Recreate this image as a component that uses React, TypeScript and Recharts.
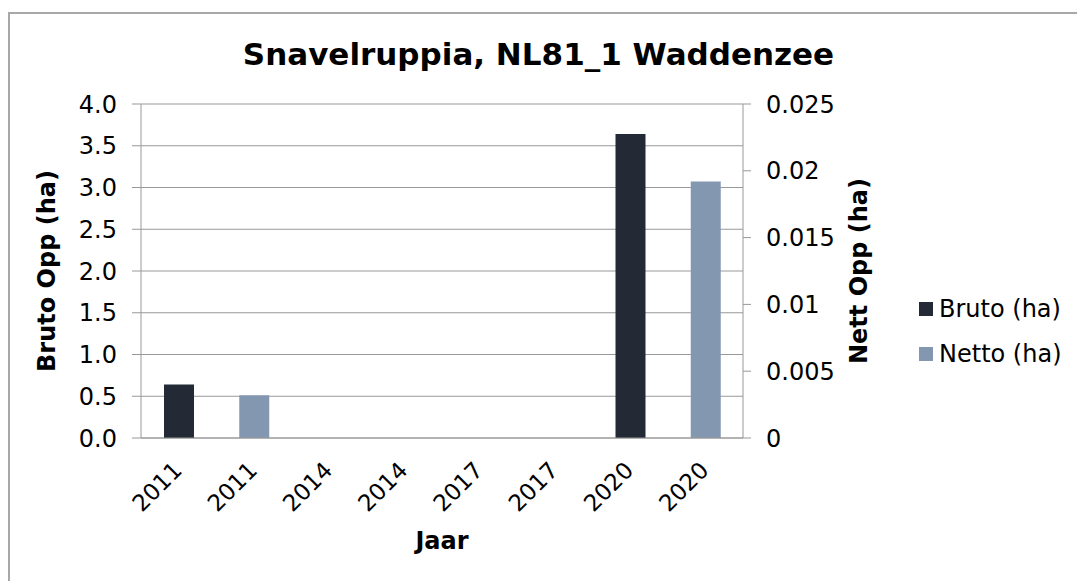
import { BarChart, Bar, XAxis, YAxis, CartesianGrid, Legend, Label } from 'recharts';

// ─── Data ────────────────────────────────────────────────────────────────────
const years = ['2011', '2011', '2014', '2014', '2017', '2017', '2020', '2020'];
const brutoHa = [0.64, null, 0, null, 0, null, 3.64, null];
const nettoHa = [null, 0.0032, null, 0, null, 0, null, 0.0192];
const brutoTicks = [0, 0.5, 1, 1.5, 2, 2.5, 3, 3.5, 4];
const nettoTicks = [0, 0.005, 0.01, 0.015, 0.02, 0.025];
const slotEdges = [0, 1, 2, 3, 4, 5, 6, 7, 8];

const data = years.map((year, i) => ({
  year,
  slot: i + 0.5,
  bruto: brutoHa[i],
  netto: nettoHa[i],
}));

const BRUTO = '#232a35';
const NETTO = '#8497b0';
const GREY = '#999999';
const FONT = '"DejaVu Sans", Verdana, sans-serif';

const legendItems = [
  { label: 'Bruto (ha)', color: BRUTO },
  { label: 'Netto (ha)', color: NETTO },
];

// ─── Pieces ──────────────────────────────────────────────────────────────────
const YearTick = ({ x, y, payload }: any) => (
  <g transform={`translate(${x - 1},${y + 27}) rotate(-45)`}>
    <text x={0} y={0} dy="0.35em" textAnchor="end" fontSize={23} fill="#000" fontFamily={FONT}>
      {payload.value}
    </text>
  </g>
);

const sideTitle = (text: string, dx: number) => (props: any) => {
  const vb = props.viewBox;
  const cx = vb.x + dx;
  const cy = vb.y + vb.height / 2;
  return (
    <text
      x={cx} y={cy} transform={`rotate(-90, ${cx}, ${cy})`}
      textAnchor="middle" dominantBaseline="central"
      fontSize={24} fontWeight="bold" fill="#000" fontFamily={FONT}
    >
      {text}
    </text>
  );
};

const bottomTitle = (props: any) => {
  const vb = props.viewBox;
  return (
    <text
      x={vb.x + vb.width / 2} y={vb.y + 102}
      textAnchor="middle" dominantBaseline="central"
      fontSize={24} fontWeight="bold" fill="#000" fontFamily={FONT}
    >
      Jaar
    </text>
  );
};

const LegendBox = () => (
  <div style={{ fontFamily: FONT, fontSize: 24, color: '#000' }}>
    {legendItems.map((it) => (
      <div key={it.label} style={{ display: 'flex', alignItems: 'center', height: 45 }}>
        <span style={{ width: 14, height: 14, background: it.color, marginRight: 6, display: 'inline-block' }} />
        {it.label}
      </div>
    ))}
  </div>
);

export default function App() {
  return (
    <div style={{ position: 'fixed', top: 0, left: 0, width: 1077, height: 581, overflow: 'hidden', background: '#fff' }}>
      <div
        style={{
          position: 'absolute', left: 8, top: 12, right: 0, bottom: 0,
          borderTop: '2px solid #a8a8a8', borderLeft: '2px solid #a8a8a8',
        }}
      />
      <div
        style={{
          position: 'absolute', top: 35, left: 0, width: 1077, textAlign: 'center',
          fontFamily: FONT, fontWeight: 'bold', fontSize: 31, lineHeight: '38px', color: '#000',
        }}
      >
        Snavelruppia, NL81_1 Waddenzee
      </div>
      <div style={{ position: 'absolute', top: 0, left: 0 }}>
        <BarChart width={1077} height={581} data={data} margin={{ top: 104, right: 194, bottom: 0, left: 0 }}>
          <CartesianGrid vertical={false} xAxisId="main" yAxisId="left" stroke={GREY} />
          <XAxis
            xAxisId="edges" dataKey="slot" type="number" domain={[0, 8]} allowDataOverflow
            ticks={slotEdges} interval={0} tick={false} height={1}
            axisLine={{ stroke: GREY }} tickLine={{ stroke: GREY }} tickSize={8}
          />
          <XAxis
            xAxisId="main" dataKey="year" height={142} interval={0}
            axisLine={false} tickLine={false} tickSize={0} tickMargin={0}
            tick={<YearTick />}
          >
            <Label content={bottomTitle} />
          </XAxis>
          <XAxis xAxisId="second" dataKey="year" hide />
          <YAxis
            yAxisId="left" width={141} domain={[0, 4]} ticks={brutoTicks} interval={0}
            tickFormatter={(v: number) => v.toFixed(1)}
            axisLine={{ stroke: GREY }} tickLine={{ stroke: GREY }} tickSize={9} tickMargin={15}
            tick={{ fontSize: 24, fill: '#000', fontFamily: FONT }}
          >
            <Label content={sideTitle('Bruto Opp (ha)', 47)} />
          </YAxis>
          <YAxis
            yAxisId="right" orientation="right" width={140} domain={[0, 0.025]} ticks={nettoTicks} interval={0}
            axisLine={{ stroke: GREY }} tickLine={{ stroke: GREY }} tickSize={8} tickMargin={15}
            tick={{ fontSize: 24, fill: '#000', fontFamily: FONT }}
          >
            <Label content={sideTitle('Nett Opp (ha)', 116)} />
          </YAxis>
          <Legend
            layout="vertical" align="center" verticalAlign="middle"
            wrapperStyle={{ left: 919, top: 286, width: 158 }}
            content={<LegendBox />}
          />
          <Bar dataKey="bruto" name="Bruto (ha)" xAxisId="main" yAxisId="left" fill={BRUTO} barSize={30} isAnimationActive={false} />
          <Bar dataKey="netto" name="Netto (ha)" xAxisId="second" yAxisId="right" fill={NETTO} barSize={30} isAnimationActive={false} />
        </BarChart>
      </div>
    </div>
  );
}
